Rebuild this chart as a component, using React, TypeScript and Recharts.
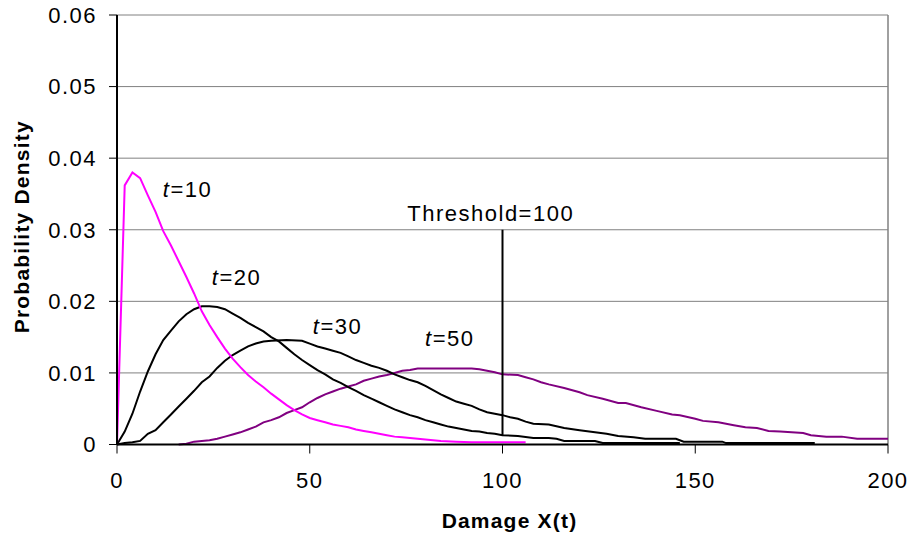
import { LineChart, Line, XAxis, YAxis, CartesianGrid, ReferenceLine, ReferenceDot } from "recharts";

// damage x -> density
const curveT10: [number, number][] = [
  [0, 0], [2, 0.0362], [4, 0.038], [6, 0.0372], [8, 0.0348], [10, 0.0325], [12, 0.0298], [14, 0.0278],
  [16, 0.0256], [18, 0.0234], [20, 0.0211], [22, 0.0186], [24, 0.0167], [26, 0.015], [28, 0.0134],
  [30, 0.012], [32, 0.0108], [34, 0.0097], [36, 0.0088], [38, 0.008], [40, 0.0071], [42, 0.0063],
  [44, 0.0055], [46, 0.0048], [48, 0.0042], [50, 0.0037], [52, 0.0034], [54, 0.0031], [56, 0.0028],
  [58, 0.0026], [60, 0.0024], [62, 0.0021], [64, 0.0019], [66, 0.0017], [68, 0.0015], [70, 0.0013],
  [72, 0.0011], [74, 0.001], [76, 0.0009], [78, 0.0008], [80, 0.0007], [84, 0.0005], [88, 0.0004],
  [92, 0.0003], [96, 0.0003], [100, 0.0003], [106, 0.0003],
];

const curveT20: [number, number][] = [
  [0, 0], [2, 0.0018], [4, 0.0043], [6, 0.0074], [8, 0.0102], [10, 0.0126], [12, 0.0146], [14, 0.0159],
  [16, 0.0172], [18, 0.0182], [20, 0.0189], [22, 0.0193], [24, 0.0193], [26, 0.0192], [28, 0.0189],
  [30, 0.0183], [32, 0.0177], [34, 0.017], [36, 0.0164], [38, 0.0158], [40, 0.015], [42, 0.0144],
  [44, 0.0135], [46, 0.0126], [48, 0.0118], [50, 0.0111], [52, 0.0104], [54, 0.0098], [56, 0.0091],
  [58, 0.0086], [60, 0.008], [62, 0.0075], [64, 0.0069], [66, 0.0064], [68, 0.0059], [70, 0.0054],
  [72, 0.0049], [74, 0.0045], [76, 0.0041], [78, 0.0038], [80, 0.0034], [82, 0.0031], [84, 0.0028],
  [86, 0.0025], [88, 0.0023], [90, 0.0021], [92, 0.0019], [94, 0.0018], [96, 0.0016], [98, 0.0015],
  [100, 0.0013], [104, 0.0012], [108, 0.0009], [112, 0.0009], [114, 0.0008], [116, 0.0005],
  [124, 0.0005], [126, 0.0002], [146, 0.0002],
];

const curveT30: [number, number][] = [
  [0, 0], [2, 0.0002], [4, 0.0003], [6, 0.0005], [8, 0.0015], [10, 0.002], [12, 0.0031], [14, 0.0042],
  [16, 0.0053], [18, 0.0064], [20, 0.0075], [22, 0.0087], [24, 0.0095], [26, 0.0107], [28, 0.0117],
  [30, 0.0125], [32, 0.0131], [34, 0.0137], [36, 0.0141], [38, 0.0144], [40, 0.0145], [44, 0.0146],
  [48, 0.0145], [50, 0.0141], [52, 0.0137], [54, 0.0134], [56, 0.0131], [58, 0.0128], [60, 0.0123],
  [62, 0.0118], [64, 0.0114], [66, 0.011], [68, 0.0107], [70, 0.0103], [72, 0.0098], [74, 0.0094],
  [76, 0.009], [78, 0.0087], [80, 0.0082], [82, 0.0076], [84, 0.007], [86, 0.0065], [88, 0.006],
  [90, 0.0057], [92, 0.0054], [94, 0.0049], [96, 0.0045], [98, 0.0043], [100, 0.0041], [102, 0.0038],
  [104, 0.0036], [106, 0.0032], [108, 0.0029], [112, 0.0028], [116, 0.0023], [120, 0.002],
  [124, 0.0017], [127, 0.0015], [130, 0.0012], [134, 0.001], [137, 0.0008], [145, 0.0008],
  [147, 0.0004], [157, 0.0004], [158, 0.0002], [181, 0.0002],
];

const curveT50: [number, number][] = [
  [16, 0], [18, 0.0001], [20, 0.0004], [22, 0.0005], [24, 0.0006], [26, 0.0008], [28, 0.0011],
  [30, 0.0014], [32, 0.0017], [34, 0.0021], [36, 0.0025], [38, 0.0031], [40, 0.0034], [42, 0.0038],
  [44, 0.0044], [46, 0.0048], [48, 0.0052], [50, 0.0059], [52, 0.0065], [54, 0.007], [56, 0.0074],
  [58, 0.0078], [60, 0.0081], [62, 0.0084], [64, 0.0089], [66, 0.0092], [68, 0.0095], [70, 0.0097],
  [72, 0.01], [74, 0.0103], [76, 0.0104], [78, 0.0106], [92, 0.0106], [94, 0.0105], [96, 0.0103],
  [98, 0.0101], [100, 0.0098], [104, 0.0097], [106, 0.0094], [108, 0.0091], [110, 0.0087],
  [112, 0.0084], [116, 0.0079], [120, 0.0073], [122, 0.0069], [126, 0.0064], [130, 0.0058],
  [132, 0.0058], [136, 0.0052], [140, 0.0047], [144, 0.0042], [146, 0.0041], [150, 0.0036],
  [152, 0.0033], [156, 0.0031], [158, 0.0029], [160, 0.0027], [163, 0.0024], [166, 0.0023],
  [169, 0.0019], [172, 0.0018], [175, 0.0017], [178, 0.0016], [180, 0.0013], [184, 0.0011],
  [188, 0.0011], [192, 0.0008], [200, 0.0008],
];

const threshold: [number, number][] = [[100, 0.03], [100, 0.0012]];

const xTicks = [0, 50, 100, 150, 200];
const yTicks = [0, 0.01, 0.02, 0.03, 0.04, 0.05, 0.06];

// curve tags: italic part, rest, anchor in data units (text start, baseline)
const tags: { it: string; rest: string; x: number; y: number }[] = [
  { it: "t", rest: "=10", x: 11.9, y: 0.0346 },
  { it: "t", rest: "=20", x: 24.6, y: 0.0223 },
  { it: "t", rest: "=30", x: 50.8, y: 0.0155 },
  { it: "t", rest: "=50", x: 79.9, y: 0.0137 },
  { it: "", rest: "Threshold=100", x: 75.3, y: 0.0312 },
];

const toPts = (c: [number, number][]) => c.map(([x, y]) => ({ x, y }));

const FONT = "'Liberation Sans', Arial, sans-serif";

const tagLabel = (it: string, rest: string) => (props: any) => {
  const vb = props.viewBox || {};
  const x = (vb.x ?? 0) + (vb.width ?? 0) / 2;
  const y = (vb.y ?? 0) + (vb.height ?? 0) / 2;
  return (
    <text x={x} y={y} fontSize={22} letterSpacing={1.5} fill="#000" fontFamily={FONT}>
      {it && <tspan fontStyle="italic">{it}</tspan>}
      <tspan>{rest}</tspan>
    </text>
  );
};

const xTitle = (props: any) => {
  const vb = props.viewBox;
  return (
    <text x={vb.x + vb.width / 2 + 7} y={vb.y + 83} textAnchor="middle" fontSize={21}
      fontWeight="bold" letterSpacing={1.2} fill="#000" fontFamily={FONT}>
      Damage X(t)
    </text>
  );
};

const yTitle = (props: any) => {
  const vb = props.viewBox;
  const cy = vb.y + vb.height / 2 - 3;
  return (
    <text x={29} y={cy} transform={`rotate(-90, 29, ${cy})`} textAnchor="middle" fontSize={21}
      fontWeight="bold" letterSpacing={1.2} fill="#000" fontFamily={FONT}>
      Probability Density
    </text>
  );
};

const tickStyle = { fontSize: 22, fill: "#000", letterSpacing: 1.5, fontFamily: FONT };

export default function App() {
  return (
    <div style={{ width: 912, height: 541, fontFamily: FONT, overflow: "hidden" }}>
      <style>{"html, body { margin: 0; padding: 0; overflow: hidden; }"}</style>
      <LineChart width={912} height={541} margin={{ top: 15, right: 24, bottom: 36.5, left: 0 }}>
        <CartesianGrid vertical={false} stroke="#808080" strokeWidth={1} />
        <ReferenceLine x={200} stroke="#808080" strokeWidth={1.5} />
        <XAxis
          type="number"
          dataKey="x"
          domain={[0, 200]}
          ticks={xTicks}
          height={60}
          tickSize={9}
          tickMargin={19}
          tick={tickStyle}
          axisLine={{ stroke: "#000", strokeWidth: 2 }}
          tickLine={{ stroke: "#000", strokeWidth: 1 }}
          label={xTitle}
        />
        <YAxis
          type="number"
          dataKey="y"
          domain={[0, 0.06]}
          ticks={yTicks}
          width={117}
          tickSize={8}
          tickMargin={12}
          tick={tickStyle}
          tickFormatter={(v) => String(v)}
          axisLine={{ stroke: "#000", strokeWidth: 2 }}
          tickLine={{ stroke: "#000", strokeWidth: 1 }}
          label={yTitle}
        />
        <Line data={toPts(curveT50)} dataKey="y" type="linear" stroke="#800080" strokeWidth={2} dot={false} isAnimationActive={false} />
        <Line data={toPts(curveT30)} dataKey="y" type="linear" stroke="#000000" strokeWidth={2} dot={false} isAnimationActive={false} />
        <Line data={toPts(curveT20)} dataKey="y" type="linear" stroke="#000000" strokeWidth={2} dot={false} isAnimationActive={false} />
        <Line data={toPts(curveT10)} dataKey="y" type="linear" stroke="#ff00ff" strokeWidth={2} dot={false} isAnimationActive={false} />
        <Line data={toPts(threshold)} dataKey="y" type="linear" stroke="#000000" strokeWidth={2} dot={false} isAnimationActive={false} />
        {tags.map((t) => (
          <ReferenceDot key={t.rest} x={t.x} y={t.y} r={0} stroke="none" fill="none" label={tagLabel(t.it, t.rest)} />
        ))}
      </LineChart>
    </div>
  );
}
